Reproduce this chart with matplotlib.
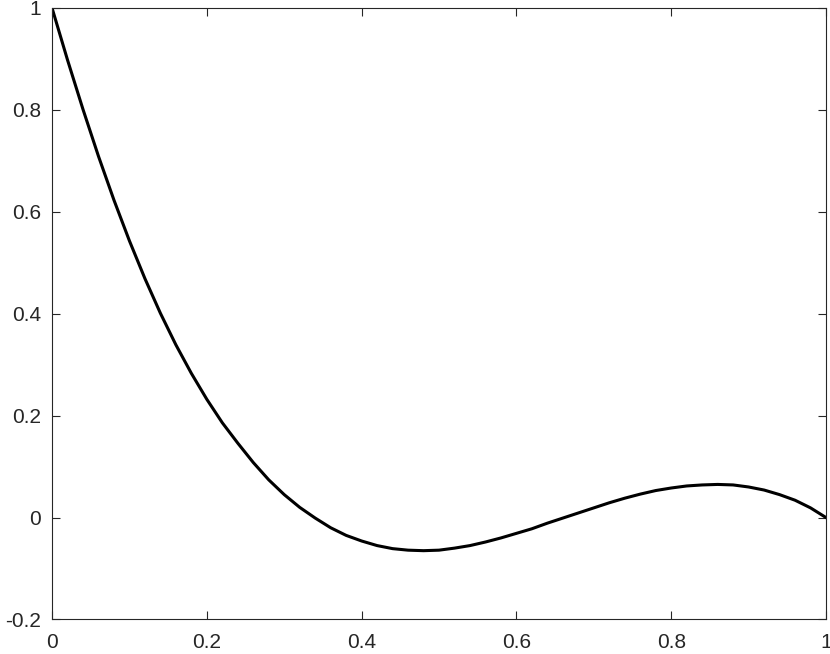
import numpy as np
import matplotlib.pyplot as plt

plt.rcParams['font.family'] = ['Liberation Sans', 'DejaVu Sans']

# puntos (cada 0.02)
x = [0.00, 0.02, 0.04, 0.06, 0.08, 0.10, 0.12, 0.14, 0.16, 0.18,
     0.20, 0.22, 0.24, 0.26, 0.28, 0.30, 0.32, 0.34, 0.36, 0.38,
     0.40, 0.42, 0.44, 0.46, 0.48, 0.50, 0.52, 0.54, 0.56, 0.58,
     0.60, 0.62, 0.64, 0.66, 0.68, 0.70, 0.72, 0.74, 0.76, 0.78,
     0.80, 0.82, 0.84, 0.86, 0.88, 0.90, 0.92, 0.94, 0.96, 0.98, 1.00]
y = [1.000, 0.898, 0.801, 0.709, 0.623, 0.543, 0.469, 0.401, 0.339, 0.283,
     0.232, 0.186, 0.146, 0.108, 0.074, 0.045, 0.020, -0.001, -0.020, -0.035,
     -0.046, -0.055, -0.061, -0.064, -0.065, -0.064, -0.060, -0.055, -0.048, -0.040,
     -0.031, -0.022, -0.011, -0.001, 0.009, 0.019, 0.029, 0.038, 0.046, 0.053,
     0.058, 0.062, 0.064, 0.065, 0.064, 0.060, 0.054, 0.045, 0.034, 0.019, 0.000]

xticks = [0, 0.2, 0.4, 0.6, 0.8, 1]
yticks = [-0.2, 0, 0.2, 0.4, 0.6, 0.8, 1]

fig = plt.figure(figsize=(8.3, 6.54), dpi=100)
ax = fig.add_axes([0.0627, 0.0528, 0.9325, 0.935])
ax.plot(x, y, color='black', linewidth=2.2, solid_joinstyle='round')
ax.set_xlim(0, 1)
ax.set_ylim(-0.2, 1)
ax.set_xticks(xticks)
ax.set_yticks(yticks)
ax.set_xticklabels(['%g' % t for t in xticks])
ax.set_yticklabels(['%g' % t for t in yticks])
ax.tick_params(direction='in', length=6, width=0.8, top=True, right=True,
               labelsize=15, colors='#262626')
ax.tick_params(axis='x', pad=10)
ax.tick_params(axis='y', pad=8)
for s in ax.spines.values():
    s.set_color('#262626')
    s.set_linewidth(0.8)
fig.savefig('out.png')
